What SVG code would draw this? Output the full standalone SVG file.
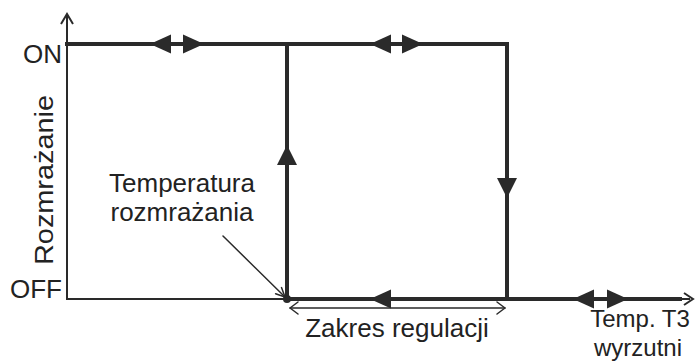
<svg xmlns="http://www.w3.org/2000/svg" xmlns:xlink="http://www.w3.org/1999/xlink" width="697" height="362" viewBox="0 0 697 362">
<style>
  .thick { stroke: #2a2a2a; stroke-width: 4; fill: none; stroke-linecap: square; }
  .thin { stroke: #2a2a2a; stroke-width: 2; fill: none; }
  .hair { stroke: #2a2a2a; stroke-width: 1.5; fill: none; stroke-linecap: round; stroke-linejoin: round; }
  .head { fill: #2a2a2a; stroke: none; }
  .lbl { font-family: "Liberation Sans", Arial, sans-serif; font-size: 24px; fill: #222; }
  .big { font-size: 26px; }
</style>
<defs>
  <path id="hl" class="head" d="M0,0 L21,-9.5 L21,9.5 Z"/>
  <path id="hr" class="head" d="M0,0 L-21,-9.5 L-21,9.5 Z"/>
  <path id="hu" class="head" d="M0,0 L-10,20 L10,20 Z"/>
  <path id="hd" class="head" d="M0,0 L-10,-20 L10,-20 Z"/>
</defs>
<rect width="697" height="362" fill="#ffffff"/>
<g id="axes">
  <path class="thin" d="M67,15 L67,299 L690,299"/>
  <path class="thin" d="M61,24 L67,14 L73,24"/>
  <path class="thin" d="M684,293 L693,299 L684,305"/>
</g>
<g id="connectors">
  <path class="thick" d="M67,44 L507,44 L507,297"/>
  <path class="thick" d="M287,44 L287,299 L680,299"/>
  <use xlink:href="#hl" x="150" y="44"/>
  <use xlink:href="#hr" x="204" y="44"/>
  <use xlink:href="#hl" x="370" y="44"/>
  <use xlink:href="#hr" x="423" y="44"/>
  <use xlink:href="#hu" x="287" y="145"/>
  <use xlink:href="#hd" x="507" y="198"/>
  <use xlink:href="#hl" x="370" y="299"/>
  <use xlink:href="#hl" x="573" y="299"/>
  <use xlink:href="#hr" x="628" y="299"/>
  <circle cx="287" cy="299" r="4" fill="#2a2a2a"/>
</g>
<g id="range">
  <path class="hair" d="M290,308 L505,308"/>
  <path class="hair" d="M298,302 L290,308 L298,314"/>
  <path class="hair" d="M497,302 L505,308 L497,314"/>
  <text class="lbl big" x="397" y="337" text-anchor="middle">Zakres regulacji</text>
</g>
<g id="leader">
  <path class="hair" d="M223,236 L285,297"/>
  <path class="hair" d="M281.5,287.6 L285,297 L275.6,293.7"/>
  <text class="lbl big" x="182" y="192" text-anchor="middle">Temperatura</text>
  <text class="lbl big" x="182" y="221" text-anchor="middle">rozmrażania</text>
</g>
<g id="labels">
  <text class="lbl big" x="62" y="63" text-anchor="end">ON</text>
  <text class="lbl big" x="62" y="298" text-anchor="end">OFF</text>
  <text class="lbl big" transform="translate(53,265) rotate(-90)" textLength="170" lengthAdjust="spacingAndGlyphs">Rozmrażanie</text>
  <text class="lbl" x="640" y="327" text-anchor="middle">Temp. T3</text>
  <text class="lbl" x="638" y="356" text-anchor="middle">wyrzutni</text>
</g>
</svg>
